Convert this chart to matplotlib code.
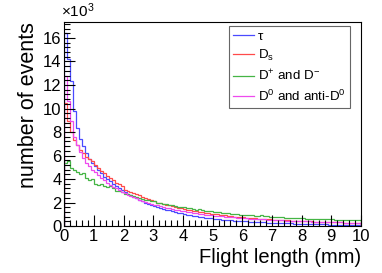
import numpy as np
from matplotlib import pyplot as plt
from matplotlib.ticker import MultipleLocator

plt.rcParams['font.family'] = ['Liberation Sans', 'DejaVu Sans']
plt.rcParams['mathtext.fontset'] = 'custom'
plt.rcParams['mathtext.rm'] = 'Liberation Sans'
plt.rcParams['mathtext.it'] = 'Liberation Sans:italic'

# flight length bins (mm), 100 bins of 0.1 mm
bin_lo, bin_hi, n_bins = 0.0, 10.0, 100

# events per bin, in units of 10^3
tau = [16.4, 14.2, 12.3, 9.8, 8.3, 7.4, 6.8, 6.2, 5.7, 5.4,
       5.1, 4.8, 4.5, 4.2, 4.0, 3.8, 3.6, 3.4, 3.2, 3.05,
       2.9, 2.75, 2.6, 2.5, 2.35, 2.25, 2.1, 2.0, 1.9, 1.8,
       1.7, 1.62, 1.55, 1.47, 1.4, 1.33, 1.27, 1.2, 1.14, 1.08,
       1.02, 0.98, 0.93, 0.88, 0.84, 0.8, 0.76, 0.72, 0.69, 0.66,
       0.63, 0.6, 0.58, 0.55, 0.53, 0.5, 0.48, 0.46, 0.44, 0.42,
       0.41, 0.39, 0.38, 0.36, 0.35, 0.33, 0.32, 0.31, 0.3, 0.28,
       0.27, 0.26, 0.25, 0.24, 0.23, 0.22, 0.22, 0.21, 0.2, 0.19,
       0.19, 0.18, 0.17, 0.17, 0.16, 0.15, 0.15, 0.14, 0.14, 0.13,
       0.13, 0.12, 0.12, 0.12, 0.11, 0.11, 0.1, 0.1, 0.1, 0.09]

ds = [10.5, 8.9, 8.0, 7.3, 6.9, 6.5, 6.2, 5.9, 5.7, 5.5,
      5.2, 4.9, 4.7, 4.5, 4.3, 4.1, 3.9, 3.7, 3.55, 3.4,
      3.1, 3.0, 2.9, 2.8, 2.7, 2.6, 2.5, 2.4, 2.3, 2.2,
      2.1, 2.0, 1.95, 1.88, 1.8, 1.75, 1.68, 1.62, 1.57, 1.5,
      1.45, 1.4, 1.36, 1.31, 1.27, 1.22, 1.18, 1.14, 1.1, 1.06,
      1.02, 0.99, 0.96, 0.93, 0.9, 0.87, 0.84, 0.81, 0.79, 0.76,
      0.74, 0.72, 0.7, 0.68, 0.66, 0.64, 0.62, 0.6, 0.58, 0.57,
      0.55, 0.54, 0.52, 0.51, 0.49, 0.48, 0.47, 0.45, 0.44, 0.43,
      0.42, 0.41, 0.4, 0.39, 0.38, 0.37, 0.36, 0.35, 0.34, 0.34,
      0.33, 0.32, 0.31, 0.31, 0.3, 0.29, 0.29, 0.28, 0.28, 0.27]

dplus = [5.4, 5.5, 4.9, 4.8, 4.6, 4.4, 4.5, 4.1, 3.9, 4.0,
         3.6, 3.5, 3.6, 3.4, 3.3, 3.4, 3.2, 3.0, 2.95, 2.9,
         2.75, 2.7, 2.6, 2.55, 2.45, 2.4, 2.3, 2.25, 2.2, 2.15,
         2.1, 2.0, 1.95, 1.9, 1.88, 1.8, 1.75, 1.72, 1.66, 1.6,
         1.58, 1.52, 1.5, 1.45, 1.4, 1.42, 1.35, 1.3, 1.32, 1.26,
         1.22, 1.2, 1.17, 1.12, 1.1, 1.08, 1.05, 1.02, 1.0, 0.97,
         0.95, 0.96, 0.92, 0.9, 0.88, 0.86, 0.9, 0.83, 0.82, 0.8,
         0.78, 0.76, 0.77, 0.74, 0.72, 0.71, 0.7, 0.68, 0.69, 0.66,
         0.65, 0.64, 0.63, 0.62, 0.64, 0.6, 0.59, 0.58, 0.57, 0.56,
         0.57, 0.55, 0.54, 0.53, 0.52, 0.54, 0.5, 0.5, 0.49, 0.52]

d0 = [12.8, 10.6, 8.9, 7.6, 6.9, 6.3, 5.8, 5.4, 5.1, 4.8,
      4.6, 4.35, 4.1, 3.9, 3.7, 3.5, 3.35, 3.2, 3.05, 2.9,
      2.8, 2.68, 2.56, 2.45, 2.35, 2.25, 2.15, 2.06, 1.98, 1.9,
      1.82, 1.75, 1.68, 1.62, 1.56, 1.5, 1.44, 1.39, 1.34, 1.29,
      1.25, 1.2, 1.16, 1.12, 1.08, 1.05, 1.01, 0.98, 0.95, 0.92,
      0.89, 0.87, 0.84, 0.82, 0.79, 0.77, 0.75, 0.73, 0.71, 0.69,
      0.67, 0.65, 0.64, 0.62, 0.6, 0.59, 0.57, 0.56, 0.55, 0.53,
      0.52, 0.51, 0.5, 0.48, 0.47, 0.46, 0.45, 0.44, 0.43, 0.42,
      0.41, 0.4, 0.39, 0.38, 0.37, 0.37, 0.36, 0.35, 0.34, 0.34,
      0.33, 0.32, 0.32, 0.31, 0.3, 0.3, 0.29, 0.29, 0.28, 0.28]

labels = ['\u03c4', r'D$_{\rm s}$', r'D$^{+}$ and D$^{-}$', r'D$^{0}$ and anti-D$^{0}$']
colors = ['#4a4aff', '#ff4a4a', '#45b545', '#ee4aee']

edges = np.linspace(bin_lo, bin_hi, n_bins + 1)

fig = plt.figure(figsize=(3.82, 2.73), dpi=100)
ax = fig.add_axes([0.168, 0.172, 0.777, 0.747])

for vals, lab, col in zip([tau, ds, dplus, d0], labels, colors):
    ax.stairs(vals, edges, color=col, lw=0.9, label=lab)

ax.set_xlim(0, 10)
ax.set_ylim(0, 17.35)
ax.xaxis.set_major_locator(MultipleLocator(1))
ax.xaxis.set_minor_locator(MultipleLocator(0.2))
ax.yaxis.set_major_locator(MultipleLocator(2))
ax.yaxis.set_minor_locator(MultipleLocator(0.4))
ax.tick_params(which='both', direction='in', top=False, right=False, labelsize=12, pad=2)
ax.tick_params(which='major', length=8, width=0.8)
ax.tick_params(which='minor', length=4, width=0.8)
for s in ax.spines.values():
    s.set_linewidth(0.8)

ax.set_xlabel('Flight length (mm)', fontsize=14.5, loc='right', labelpad=3)
ax.set_ylabel('number of events', fontsize=15.5, loc='top', labelpad=3)
ax.text(-0.01, 1.01, r'$\times$10$^{3}$', transform=ax.transAxes, fontsize=11, ha='left', va='bottom')

leg = ax.legend(loc='upper left', bbox_to_anchor=(0.556, 0.98), fontsize=9.6,
                fancybox=False, edgecolor='#666666', framealpha=1,
                handlelength=1.55, handletextpad=0.3, labelspacing=0.4, borderpad=0.3,
                borderaxespad=0)
leg.get_frame().set_linewidth(0.8)

fig.savefig('out.png', dpi=100)
